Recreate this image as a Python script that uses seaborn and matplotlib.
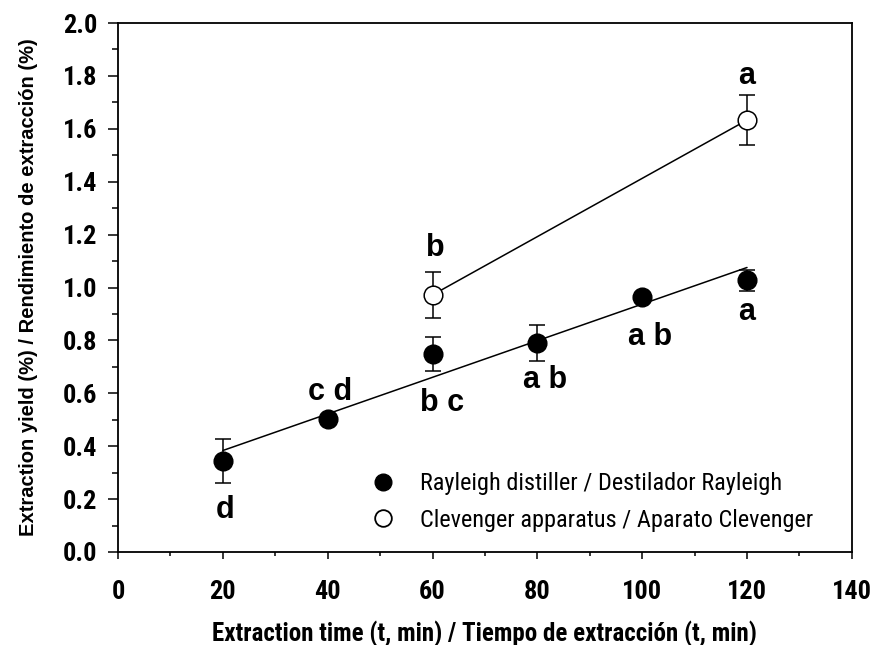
import seaborn as sns
import pandas as pd
import matplotlib.pyplot as plt
from matplotlib.lines import Line2D
from matplotlib.ticker import MultipleLocator, FormatStrFormatter
from matplotlib import font_manager

# data
ray_time = [20, 40, 60, 80, 100, 120]
ray_yield = [0.344, 0.503, 0.749, 0.790, 0.964, 1.028]
ray_err = [0.083, 0.0, 0.065, 0.068, 0.0, 0.040]
ray_letters = ["d", "c d", "b c", "a b", "a b", "a"]
ray_letter_y = [0.159, 0.605, 0.563, 0.650, 0.813, 0.907]
ray_letter_x = [20.5, 40.4, 61.9, 81.5, 101.5, 120]

clev_time = [60, 120]
clev_yield = [0.972, 1.633]
clev_err = [0.088, 0.093]
clev_letters = ["b", "a"]
clev_letter_y = [1.149, 1.80]
clev_letter_x = [60.5, 120]

sns.set_style("ticks")
plt.rcParams["font.family"] = ["Liberation Sans", "DejaVu Sans"]
plt.rcParams["text.color"] = "black"
plt.rcParams["axes.labelcolor"] = "black"
plt.rcParams["xtick.color"] = "black"
plt.rcParams["ytick.color"] = "black"
plt.rcParams["axes.edgecolor"] = "black"

# condensed face for ticks / x label / legend if one is installed
names = {f.name for f in font_manager.fontManager.ttflist}
cond = [n for n in ["Liberation Sans Narrow", "DejaVu Sans Condensed",
                    "Roboto Condensed", "Open Sans Condensed"] if n in names]
narrow = cond + ["DejaVu Sans"]
stretch = "normal" if cond else "condensed"

ray = pd.DataFrame({"t": ray_time, "y": ray_yield})
clev = pd.DataFrame({"t": clev_time, "y": clev_yield})

fig = plt.figure(figsize=(8.71, 6.45), dpi=100)
ax = fig.add_axes([0.1355, 0.1442, 0.8425, 0.8201])

# fitted lines
sns.regplot(data=ray, x="t", y="y", scatter=False, ci=None, truncate=True,
            line_kws={"color": "black", "lw": 1.1}, ax=ax)
sns.regplot(data=clev, x="t", y="y", scatter=False, ci=None, truncate=True,
            line_kws={"color": "black", "lw": 1.1}, ax=ax)

# error bars
ax.errorbar(ray_time, ray_yield, yerr=ray_err, fmt="none", ecolor="black",
            elinewidth=1.1, capsize=6, capthick=1.1, zorder=3)
ax.errorbar(clev_time, clev_yield, yerr=clev_err, fmt="none", ecolor="black",
            elinewidth=1.1, capsize=6, capthick=1.1, zorder=3)

# points
sns.scatterplot(data=ray, x="t", y="y", color="black", edgecolor="black",
                s=180, zorder=4, ax=ax)
sns.scatterplot(data=clev, x="t", y="y", color="white", edgecolor="black",
                linewidth=1.1, s=180, zorder=4, ax=ax)

# significance letters
for x, y, s in zip(ray_letter_x, ray_letter_y, ray_letters):
    ax.text(x, y, s, ha="center", va="center", fontsize=22, fontweight="bold")
for x, y, s in zip(clev_letter_x, clev_letter_y, clev_letters):
    ax.text(x, y, s, ha="center", va="center", fontsize=22, fontweight="bold")

ax.xaxis.set_major_locator(MultipleLocator(20))
ax.xaxis.set_minor_locator(MultipleLocator(10))
ax.yaxis.set_major_locator(MultipleLocator(0.2))
ax.yaxis.set_minor_locator(MultipleLocator(0.1))
ax.yaxis.set_major_formatter(FormatStrFormatter("%.1f"))
ax.set_xlim(0, 140)
ax.set_ylim(0, 2.0)

ax.tick_params(axis="x", which="major", direction="out", length=5, width=1.1,
               pad=15)
ax.tick_params(axis="x", which="minor", direction="out", length=3, width=1.1)
ax.tick_params(axis="y", which="major", direction="out", length=7, width=1.1,
               pad=8)
ax.tick_params(axis="y", which="minor", direction="out", length=4, width=1.1)
for lab in ax.get_xticklabels() + ax.get_yticklabels():
    lab.set_family(narrow)
    lab.set_stretch(stretch)
    lab.set_fontweight("bold")
    lab.set_fontsize(19)

for sp in ax.spines.values():
    sp.set_visible(True)
    sp.set_linewidth(1.3)

ax.set_xlabel("Extraction time (t, min) / Tiempo de extracción (t, min)",
              fontsize=18, fontweight="bold", family=narrow, stretch=stretch,
              labelpad=12)
ax.set_ylabel("Extraction yield (%) / Rendimiento de extracción (%)",
              fontsize=14.5, fontweight="bold", labelpad=18)

handles = [
    Line2D([], [], ls="none", marker="o", markersize=12,
           markerfacecolor="black", markeredgecolor="black"),
    Line2D([], [], ls="none", marker="o", markersize=12,
           markerfacecolor="white", markeredgecolor="black", markeredgewidth=1.3),
]
ax.legend(handles, ["Rayleigh distiller / Destilador Rayleigh",
                    "Clevenger apparatus / Aparato Clevenger"],
          loc="lower right", bbox_to_anchor=(0.96, 0.02), frameon=False,
          prop={"family": narrow, "size": 17.5, "stretch": stretch},
          handletextpad=0.5, labelspacing=0.55, borderaxespad=0)

fig.savefig("out.png", dpi=100)
